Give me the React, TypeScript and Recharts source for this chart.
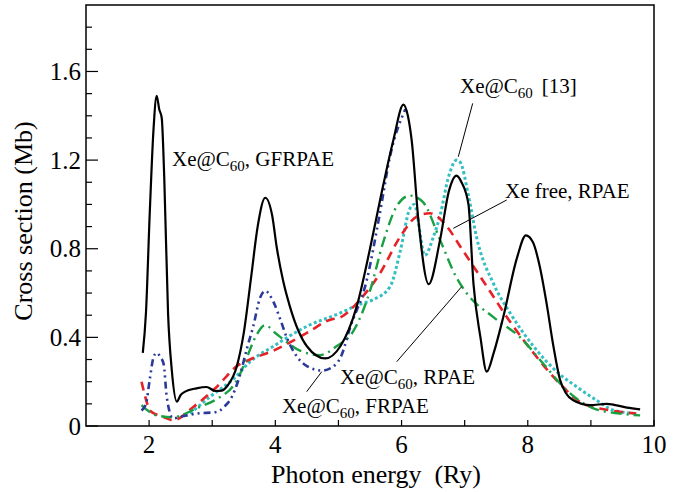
import React from "react";
import {
  LineChart,
  Line,
  XAxis,
  YAxis,
  ReferenceArea,
  ReferenceLine,
  ReferenceDot,
} from "recharts";

// photon energy (Ry), cross section (Mb)
const gfrpae: [number, number][] = [
  [1.9, 0.33], [1.95, 0.51], [2.01, 0.96], [2.07, 1.34], [2.12, 1.49], [2.16, 1.43],
  [2.2, 1.39], [2.24, 1.12], [2.3, 0.51], [2.36, 0.25], [2.44, 0.11], [2.5, 0.14],
  [2.57, 0.155], [2.75, 0.17], [2.91, 0.176], [3.05, 0.158], [3.15, 0.16], [3.25, 0.185],
  [3.39, 0.27], [3.5, 0.42], [3.62, 0.68], [3.72, 0.9], [3.84, 1.03], [3.95, 0.95],
  [4.02, 0.81], [4.12, 0.66], [4.23, 0.54], [4.5, 0.36], [4.79, 0.305], [5.03, 0.36],
  [5.29, 0.54], [5.5, 0.8], [5.66, 1.02], [5.87, 1.29], [6.03, 1.45], [6.1, 1.4],
  [6.16, 1.29], [6.27, 0.92], [6.43, 0.64], [6.61, 0.84], [6.75, 1.06], [6.87, 1.13],
  [6.95, 1.1], [7.06, 1.0], [7.14, 0.64], [7.25, 0.4], [7.35, 0.245], [7.46, 0.33],
  [7.61, 0.49], [7.83, 0.76], [7.97, 0.86], [8.08, 0.83], [8.19, 0.72], [8.3, 0.55],
  [8.4, 0.37], [8.51, 0.21], [8.6, 0.15], [8.72, 0.116], [8.99, 0.094], [9.25, 0.1],
  [9.57, 0.083], [9.78, 0.075],
];

const frpae: [number, number][] = [
  [1.88, 0.07], [1.95, 0.1], [2.01, 0.21], [2.07, 0.31], [2.12, 0.33], [2.18, 0.31],
  [2.23, 0.28], [2.28, 0.13], [2.38, 0.035], [2.55, 0.045], [2.75, 0.056], [3.07, 0.063],
  [3.2, 0.09], [3.28, 0.116], [3.44, 0.23], [3.55, 0.35], [3.65, 0.45], [3.76, 0.58],
  [3.84, 0.61], [3.97, 0.56], [4.08, 0.48], [4.18, 0.4], [4.35, 0.31], [4.5, 0.27],
  [4.74, 0.25], [4.9, 0.265], [5.05, 0.32], [5.18, 0.44], [5.45, 0.66], [5.65, 0.95],
  [5.82, 1.22], [6.06, 1.43],
];

const rpaeC60: [number, number][] = [
  [1.88, 0.094], [2.0, 0.065], [2.12, 0.048], [2.38, 0.04], [2.75, 0.08], [3.12, 0.13],
  [3.33, 0.18], [3.45, 0.24], [3.55, 0.31], [3.7, 0.41], [3.84, 0.455], [4.0, 0.42],
  [4.13, 0.39], [4.39, 0.34], [4.71, 0.32], [4.97, 0.36], [5.24, 0.43], [5.5, 0.61],
  [5.71, 0.83], [5.92, 0.99], [6.13, 1.04], [6.34, 1.01], [6.61, 0.84], [6.87, 0.67],
  [7.03, 0.6], [7.46, 0.49], [7.88, 0.4], [8.25, 0.28], [8.62, 0.16], [9.04, 0.08],
  [9.46, 0.056], [9.78, 0.048],
];

const rpaeFree: [number, number][] = [
  [1.88, 0.2], [1.95, 0.12], [2.01, 0.07], [2.23, 0.04], [2.38, 0.026], [2.7, 0.086],
  [3.07, 0.176], [3.39, 0.27], [3.6, 0.3], [3.97, 0.34], [4.5, 0.42], [4.87, 0.48],
  [5.03, 0.49], [5.34, 0.57], [5.66, 0.69], [5.98, 0.855], [6.24, 0.945], [6.45, 0.96],
  [6.72, 0.9], [6.93, 0.81], [7.14, 0.72], [7.35, 0.63], [7.72, 0.47], [8.09, 0.33],
  [8.51, 0.19], [8.88, 0.1], [9.3, 0.071], [9.72, 0.056],
];

const ref13: [number, number][] = [
  [2.65, 0.056], [3.0, 0.14], [3.33, 0.21], [3.6, 0.29], [3.97, 0.36], [4.5, 0.45],
  [5.03, 0.51], [5.34, 0.55], [5.55, 0.57], [5.82, 0.63], [5.98, 0.79], [6.13, 0.98],
  [6.2, 1.0], [6.37, 0.77], [6.5, 0.85], [6.61, 0.95], [6.75, 1.13], [6.87, 1.2],
  [6.93, 1.19], [7.06, 1.04], [7.19, 0.85], [7.46, 0.64], [7.72, 0.51], [8.09, 0.36],
  [8.46, 0.245], [8.78, 0.176], [9.09, 0.116], [9.36, 0.071], [9.72, 0.056],
];

const xTicks = [2, 3, 4, 5, 6, 7, 8, 9, 10];
const xLabelled = [2, 4, 6, 8, 10];
const yTicks = [0, 0.1, 0.2, 0.3, 0.4, 0.5, 0.6, 0.7, 0.8, 0.9, 1.0, 1.1, 1.2, 1.3, 1.4, 1.5, 1.6, 1.7, 1.8];
const yLabelled = ["0", "0.4", "0.8", "1.2", "1.6"];

const FONT = '"Liberation Serif", "Times New Roman", serif';

const toRows = (pts: [number, number][]) => pts.map(([x, y]) => ({ x, y }));

const YTick = (props: any) => {
  const { x, y, payload } = props;
  const label = String(payload.value);
  const major = yLabelled.includes(label);
  return (
    <g>
      <line x1={x} x2={x + (major ? 12 : 6)} y1={y} y2={y} stroke="#000" strokeWidth={1.2} />
      {major && (
        <text x={x - 5} y={y} dy="0.35em" textAnchor="end" fontSize={25} fontFamily={FONT} fill="#000">
          {label}
        </text>
      )}
    </g>
  );
};

const XTick = (props: any) => {
  const { x, y, payload } = props;
  const v = payload.value;
  return (
    <g>
      <line x1={x} x2={x} y1={y} y2={y - 6} stroke="#000" strokeWidth={1.2} />
      {xLabelled.includes(v) && (
        <text x={x} y={y + 27} textAnchor="middle" fontSize={25} fontFamily={FONT} fill="#000">
          {v}
        </text>
      )}
    </g>
  );
};

const annotation = (sub: string | null, head: string, tail: string, gap = 0) => (p: any) => (
  <text x={p.cx} y={p.cy} fontSize={21} fontFamily={FONT} fill="#000">
    {head}
    {sub && (
      <tspan fontSize={15} dy={5}>
        {sub}
      </tspan>
    )}
    <tspan dy={sub ? -5 : 0} dx={gap}>
      {tail}
    </tspan>
  </text>
);

export default function App() {
  return (
    <div style={{ position: "absolute", left: 0, top: 0, width: 677, height: 492, background: "#fff" }}>
      <LineChart width={677} height={492} margin={{ top: 5, right: 23, left: 0, bottom: 0 }}>
        <XAxis
          type="number"
          dataKey="x"
          domain={[1, 10]}
          ticks={xTicks}
          allowDataOverflow
          height={66}
          axisLine={false}
          tickLine={false}
          tickSize={0}
          tickMargin={0}
          tick={<XTick />}
          interval={0}
        />
        <YAxis
          type="number"
          dataKey="y"
          domain={[0, 1.9]}
          ticks={yTicks}
          allowDataOverflow
          width={86}
          axisLine={false}
          tickLine={false}
          tickSize={0}
          tickMargin={0}
          tick={<YTick />}
          interval={0}
        />
        <ReferenceArea x1={1} x2={10} y1={0} y2={1.9} fill="none" stroke="#000" strokeWidth={1.5} />

        <Line data={toRows(ref13)} dataKey="y" type="monotone" stroke="#35bfc2" strokeWidth={3} strokeDasharray="3 2.5" dot={false} isAnimationActive={false} />
        <Line data={toRows(rpaeFree)} dataKey="y" type="monotone" stroke="#e62228" strokeWidth={2.6} strokeDasharray="9 6" dot={false} isAnimationActive={false} />
        <Line data={toRows(rpaeC60)} dataKey="y" type="monotone" stroke="#18a043" strokeWidth={2.4} strokeDasharray="11 5 2 5" dot={false} isAnimationActive={false} />
        <Line data={toRows(frpae)} dataKey="y" type="monotone" stroke="#2b3a9a" strokeWidth={2.6} strokeDasharray="7 4 2 4 2 4" dot={false} isAnimationActive={false} />
        <Line data={toRows(gfrpae)} dataKey="y" type="monotone" stroke="#000" strokeWidth={2.2} dot={false} isAnimationActive={false} />

        <ReferenceLine segment={[{ x: 7.127, y: 1.456 }, { x: 6.899, y: 1.215 }]} stroke="#000" strokeWidth={1} />
        <ReferenceLine segment={[{ x: 7.666, y: 1.02 }, { x: 6.82, y: 0.892 }]} stroke="#000" strokeWidth={1} />
        <ReferenceLine segment={[{ x: 5.923, y: 0.29 }, { x: 6.953, y: 0.629 }]} stroke="#000" strokeWidth={1} />
        <ReferenceLine segment={[{ x: 4.497, y: 0.155 }, { x: 4.735, y: 0.245 }]} stroke="#000" strokeWidth={1} />

        <ReferenceDot x={2.363} y={1.175} r={0} shape={annotation("60", "Xe@C", ", GFRPAE")} />
        <ReferenceDot x={6.926} y={1.501} r={0} shape={annotation("60", "Xe@C", "[13]", 9)} />
        <ReferenceDot x={7.639} y={1.029} r={0} shape={annotation(null, "Xe free, RPAE", "")} />
        <ReferenceDot x={5.025} y={0.1895} r={0} shape={annotation("60", "Xe@C", ", RPAE")} />
        <ReferenceDot x={4.105} y={0.0587} r={0} shape={annotation("60", "Xe@C", ", FRPAE")} />

        <text x={376} y={483} textAnchor="middle" fontSize={26} fontFamily={FONT} fill="#000" style={{ whiteSpace: "pre" }}>
          {"Photon energy  (Ry)"}
        </text>
        <text x={32} y={221} transform="rotate(-90 32 221)" textAnchor="middle" fontSize={26} fontFamily={FONT} fill="#000">
          Cross section (Mb)
        </text>
      </LineChart>
    </div>
  );
}
